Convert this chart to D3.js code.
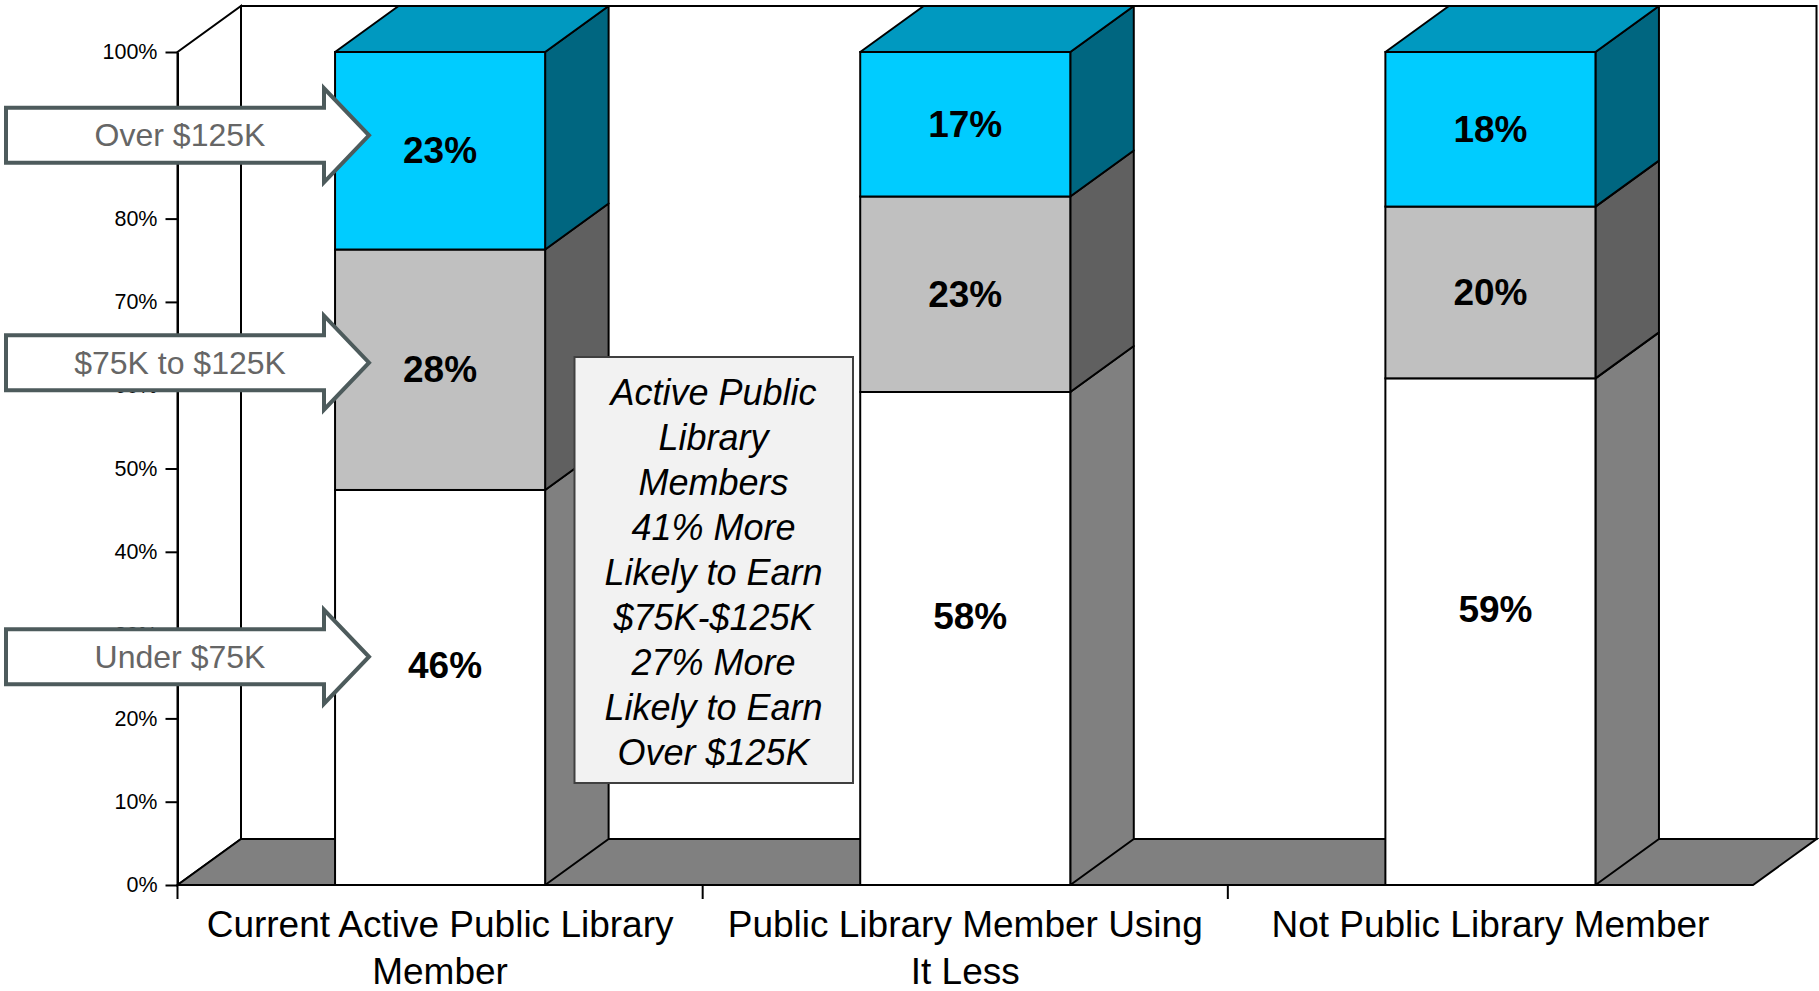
<!DOCTYPE html>
<html>
<head>
<meta charset="utf-8">
<script src="https://cdnjs.cloudflare.com/ajax/libs/d3/7.8.5/d3.min.js"></script>
<style>
body{margin:0;background:#fff}
text{font-family:"Liberation Sans",Arial,sans-serif}
</style>
</head>
<body>
<div id="chart"></div>
<script>
var categories = ["Current Active Public Library Member","Public Library Member Using It Less","Not Public Library Member"]
var seriesNames = ["Under $75K","$75K to $125K","Over $125K"]
var under75 = [46,58,59]
var from75to125 = [28,23,20]
var over125 = [23,17,18]
var yTicks = [0,0.1,0.2,0.3,0.4,0.5,0.6,0.7,0.8,0.9,1]
var calloutLines = ["Active Public","Library","Members","41% More","Likely to Earn","$75K-$125K","27% More","Likely to Earn","Over $125K"]

var rows = categories.map((c,i)=>({cat:c,"Under $75K":under75[i],"$75K to $125K":from75to125[i],"Over $125K":over125[i]}))
var stack = d3.stack().keys(seriesNames).offset(d3.stackOffsetExpand)(rows)

// front / side / top colours per series
var faces = {
    "Under $75K":{front:"#FFFFFF",side:"#808080"},
    "$75K to $125K":{front:"#C0C0C0",side:"#606060"},
    "Over $125K":{front:"#00CCFF",side:"#006680",top:"#0099C0"}
}
// where the side arrows point, in axis units
var arrowLevel = {"Under $75K":0.274,"$75K to $125K":0.627,"Over $125K":0.90}

var W = 1819, H = 991
var dx = 63.5, dy = -46

var svg = d3.select("#chart").append("svg")
    .attr("width",W)
    .attr("height",H)

var x = d3.scaleBand().domain(categories).range([177.5,1753])
var y = d3.scaleLinear().domain([0,1]).range([885,52])
var bw = x.bandwidth()
var barW = bw*0.4
var x0 = x.range()[0], x1 = x.range()[1], y0 = y(0), yT = y(1)
var pts = a=>a.map(p=>p.join(",")).join(" ")

// back wall, side wall, floor
svg.append("polygon")
    .attr("points",pts([[x0+dx,y0+dy],[x1+dx,y0+dy],[x1+dx,yT+dy],[x0+dx,yT+dy]]))
    .attr("fill","#fff").attr("stroke","#000").attr("stroke-width",2)
svg.append("polygon")
    .attr("points",pts([[x0,y0],[x0,yT],[x0+dx,yT+dy],[x0+dx,y0+dy]]))
    .attr("fill","#fff").attr("stroke","#000").attr("stroke-width",2)
svg.append("polygon")
    .attr("points",pts([[x0,y0],[x1,y0],[x1+dx,y0+dy],[x0+dx,y0+dy]]))
    .attr("fill","#808080").attr("stroke","#000").attr("stroke-width",2)

// bars
var bx = d=>x(d.data.cat)+(bw-barW)/2
var layers = svg.selectAll(".layer")
    .data(stack)
    .enter()
    .append("g")
    .attr("class","layer")

layers.selectAll(".side")
    .data(s=>s.map(d=>Object.assign(d,{key:s.key})))
    .enter()
    .append("polygon")
    .attr("points",d=>pts([[bx(d)+barW,y(d[0])],[bx(d)+barW+dx,y(d[0])+dy],[bx(d)+barW+dx,y(d[1])+dy],[bx(d)+barW,y(d[1])]]))
    .attr("fill",d=>faces[d.key].side)
    .attr("stroke","#000").attr("stroke-width",2).attr("stroke-linejoin","round")

layers.selectAll(".front")
    .data(s=>s)
    .enter()
    .append("rect")
    .attr("x",d=>bx(d))
    .attr("y",d=>y(d[1]))
    .attr("width",barW)
    .attr("height",d=>y(d[0])-y(d[1]))
    .attr("fill",d=>faces[d.key].front)
    .attr("stroke","#000").attr("stroke-width",2)

var topLayer = stack[stack.length-1]
svg.selectAll(".topface")
    .data(topLayer)
    .enter()
    .append("polygon")
    .attr("points",d=>pts([[bx(d),y(d[1])],[bx(d)+dx,y(d[1])+dy],[bx(d)+barW+dx,y(d[1])+dy],[bx(d)+barW,y(d[1])]]))
    .attr("fill",faces["Over $125K"].top)
    .attr("stroke","#000").attr("stroke-width",2).attr("stroke-linejoin","round")

// value labels (bottom ones sit a little above centre, as in the original)
layers.selectAll(".val")
    .data(s=>s)
    .enter()
    .append("text")
    .text(d=>d.data[d.key]+"%")
    .attr("x",d=>bx(d)+barW/2+(d.key=="Under $75K"?5:0))
    .attr("y",d=>(y(d[0])+y(d[1]))/2-(d.key=="Under $75K"?22:0))
    .attr("text-anchor","middle")
    .attr("dominant-baseline","central")
    .attr("font-weight",700)
    .attr("font-size",37)

// y axis
var yAxis = svg.append("g")
    .attr("transform","translate("+x0+",0)")
    .call(d3.axisLeft(y).tickValues(yTicks).tickFormat(d3.format(".0%")).tickSize(12).tickSizeOuter(0).tickPadding(8))
yAxis.select(".domain").attr("stroke","#000").attr("stroke-width",2)
yAxis.selectAll(".tick line").attr("stroke","#000").attr("stroke-width",2)
yAxis.selectAll(".tick text")
    .attr("font-size",21.5)
    .attr("font-family","Liberation Sans, Arial, sans-serif")
    .attr("fill","#000")

// x axis ticks at band edges
svg.selectAll(".xtick")
    .data(categories)
    .enter()
    .append("line")
    .attr("x1",d=>x(d)).attr("x2",d=>x(d))
    .attr("y1",y0).attr("y2",y0+14)
    .attr("stroke","#000").attr("stroke-width",2)

var catLabels = svg.selectAll(".cat")
    .data(categories)
    .enter()
    .append("text")
    .attr("x",d=>x(d)+bw/2)
    .attr("y",937)
    .attr("text-anchor","middle")
    .attr("font-size",37)
    .attr("fill","#000")

catLabels.each(function(d){
    var t = d3.select(this), words = d.split(" "), line = [], lines = []
    var probe = t.append("tspan")
    words.forEach(w=>{
        probe.text(line.concat([w]).join(" "))
        if (probe.node().getComputedTextLength()>bw*0.95 && line.length){
            lines.push(line.join(" "))
            line = [w]
        } else line.push(w)
    })
    lines.push(line.join(" "))
    probe.remove()
    lines.forEach((l,i)=>{
        t.append("tspan").attr("x",x(d)+bw/2).attr("dy",i?47:0).text(l)
    })
})

// side arrows
var arrows = svg.selectAll(".arrow")
    .data(seriesNames)
    .enter()
    .append("g")
arrows.append("polygon")
    .attr("points",d=>{
        var c = y(arrowLevel[d])
        return pts([[6,c-27.5],[324,c-27.5],[324,c-47],[369,c],[324,c+47],[324,c+27.5],[6,c+27.5]])
    })
    .attr("fill","#fff")
    .attr("stroke","#4d5b5c")
    .attr("stroke-width",4)
arrows.append("text")
    .text(d=>d)
    .attr("x",180)
    .attr("y",d=>y(arrowLevel[d]))
    .attr("text-anchor","middle")
    .attr("dominant-baseline","central")
    .attr("font-size",32)
    .attr("fill","#666666")

// callout box
var box = svg.append("g")
box.append("rect")
    .attr("x",574.5).attr("y",357)
    .attr("width",278.5).attr("height",426)
    .attr("fill","#F2F2F2")
    .attr("stroke","#404040")
    .attr("stroke-width",2)
box.selectAll("text")
    .data(calloutLines)
    .enter()
    .append("text")
    .text(d=>d)
    .attr("x",713.5)
    .attr("y",(d,i)=>392+i*45)
    .attr("text-anchor","middle")
    .attr("dominant-baseline","central")
    .attr("font-style","italic")
    .attr("font-size",36)
    .attr("fill","#000")
</script>
</body>
</html>
